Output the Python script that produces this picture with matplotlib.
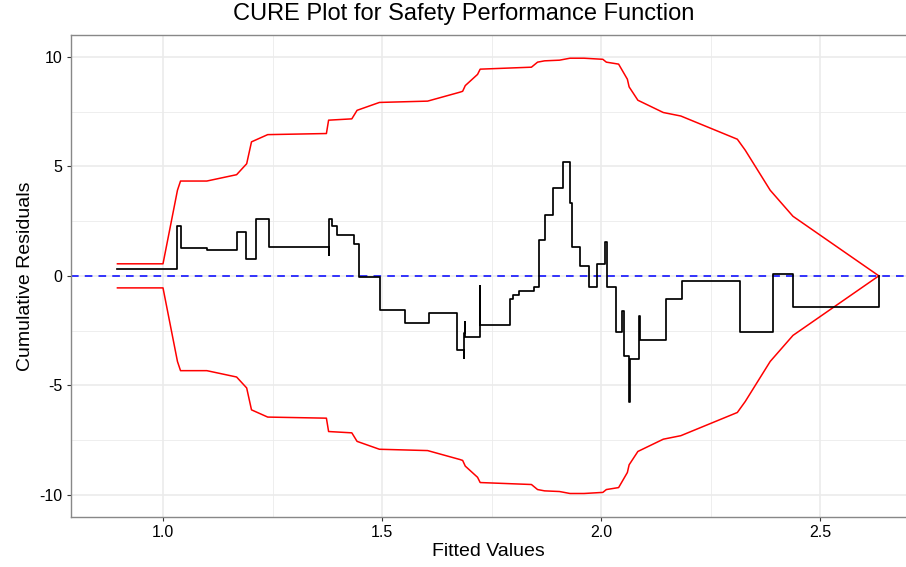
import matplotlib
matplotlib.use("Agg")
import matplotlib.pyplot as plt
import numpy as np

plt.rcParams['font.family'] = ['Liberation Sans', 'DejaVu Sans']

# Cumulative residuals (step line, value after each jump)
fitted = [0.896, 1.033, 1.042, 1.100, 1.169, 1.190, 1.212, 1.241, 1.379, 1.3795,
          1.385, 1.398, 1.437, 1.448, 1.496, 1.553, 1.607, 1.672, 1.686, 1.687,
          1.689, 1.690, 1.724, 1.7245, 1.793, 1.798, 1.812, 1.846, 1.859, 1.872,
          1.891, 1.912, 1.914, 1.928, 1.934, 1.952, 1.972, 1.990, 2.008, 2.014,
          2.035, 2.048, 2.053, 2.064, 2.065, 2.086, 2.088, 2.148, 2.184, 2.318,
          2.392, 2.437, 2.634]
cum_resid = [0.33, 2.27, 1.25, 1.16, 2.01, 0.79, 2.59, 1.34, 0.97, 2.61,
             2.26, 1.88, 1.47, -0.03, -1.57, -2.14, -1.71, -3.37, -3.74, -2.60,
             -2.11, -2.80, -0.48, -2.23, -1.07, -0.87, -0.69, -0.50, 1.63, 2.79,
             4.00, 4.15, 5.20, 3.31, 1.33, 0.43, -0.50, 0.53, 1.53, -0.49,
             -2.57, -1.61, -3.67, -5.74, -3.79, -1.85, -2.95, -1.08, -0.25, -2.57,
             0.07, -1.40, 0.00]

# Confidence limits (+/- 2 sigma*)
bound_x = [0.896, 1.000, 1.033, 1.040, 1.100, 1.168, 1.191, 1.202, 1.239, 1.373,
           1.378, 1.431, 1.443, 1.494, 1.604, 1.678, 1.684, 1.690, 1.718, 1.724,
           1.841, 1.855, 1.871, 1.905, 1.929, 1.961, 2.004, 2.012, 2.040, 2.060,
           2.064, 2.084, 2.142, 2.182, 2.311, 2.329, 2.386, 2.438, 2.634]
bound_y = [0.55, 0.55, 3.91, 4.33, 4.33, 4.62, 5.12, 6.12, 6.45, 6.50,
           7.11, 7.17, 7.56, 7.92, 7.98, 8.39, 8.43, 8.69, 9.20, 9.44,
           9.53, 9.76, 9.82, 9.85, 9.94, 9.94, 9.89, 9.76, 9.67, 8.98,
           8.63, 8.02, 7.46, 7.30, 6.24, 5.74, 3.91, 2.72, 0.00]

x_ticks = [1.0, 1.5, 2.0, 2.5]
x_tick_labels = ["1.0", "1.5", "2.0", "2.5"]
y_ticks = [-10, -5, 0, 5, 10]
y_tick_labels = ["-10", "-5", "0", "5", "10"]

W, H = 906, 567
fig = plt.figure(figsize=(W / 100, H / 100), dpi=100)
ax = fig.add_axes([71 / W, 1 - 516.7 / H, (W - 71) / W, (516.7 - 35) / H])

ax.set_xlim(0.790, 2.696)
ax.set_ylim(-11.0, 11.0)

grid_c = "#EBEBEB"
for v in [0.75, 1.25, 1.75, 2.25]:
    ax.axvline(v, color=grid_c, lw=0.6, zorder=0)
for v in x_ticks:
    ax.axvline(v, color=grid_c, lw=1.2, zorder=0)
for v in [-7.5, -2.5, 2.5, 7.5]:
    ax.axhline(v, color=grid_c, lw=0.6, zorder=0)
for v in y_ticks:
    ax.axhline(v, color=grid_c, lw=1.2, zorder=0)

ax.axhline(0, color="#0000FF", lw=1.1, ls=(0, (5, 4)), zorder=2)
bx = np.array(bound_x)
by = np.array(bound_y)
ax.plot(bx, by, color="#FF0000", lw=1.1, zorder=3)
ax.plot(bx, -by, color="#FF0000", lw=1.1, zorder=3)
ax.plot(fitted, cum_resid, color="black", lw=1.25, drawstyle="steps-post", zorder=4)

ax.set_xticks(x_ticks)
ax.set_xticklabels(x_tick_labels)
ax.set_yticks(y_ticks)
ax.set_yticklabels(y_tick_labels)
ax.tick_params(axis="both", colors="#333333", labelcolor="black", labelsize=11.5,
               length=3, width=0.8, direction="out", pad=3)

for s in ["left", "bottom", "top"]:
    ax.spines[s].set_color("#888888")
    ax.spines[s].set_linewidth(1.0)
ax.spines["right"].set_visible(False)

ax.set_xlabel("Fitted Values", fontsize=14, labelpad=2)
ax.set_ylabel("Cumulative Residuals", fontsize=14, labelpad=4)
fig.text(463.5 / W, 1 - 14 / H, "CURE Plot for Safety Performance Function",
         ha="center", va="center", fontsize=17)

fig.savefig("out.png", dpi=100)
